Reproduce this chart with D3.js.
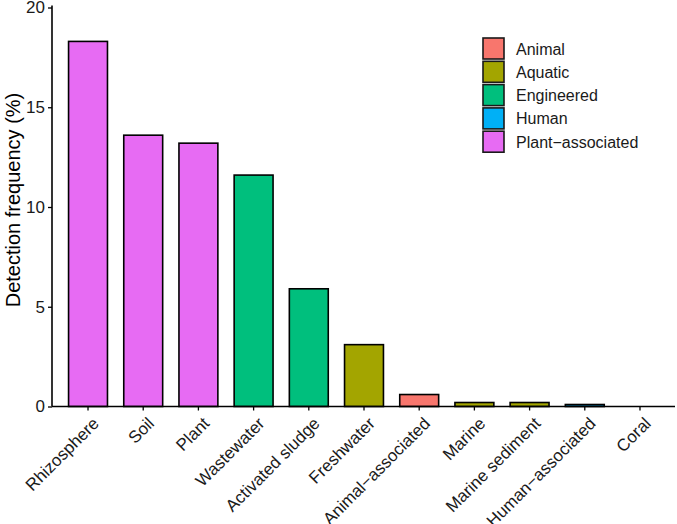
<!DOCTYPE html>
<html><head><meta charset="utf-8">
<script src="https://cdn.jsdelivr.net/npm/d3@7"></script>
<style>body{margin:0;background:#fff;} text{font-family:"Liberation Sans",Arial,Helvetica,sans-serif;}</style>
</head><body>
<svg id="chart" width="677" height="524"></svg>
<script>
const categories = ["Rhizosphere","Soil","Plant","Wastewater","Activated sludge","Freshwater","Animal\u2212associated","Marine","Marine sediment","Human\u2212associated","Coral"];
const values = [18.3, 13.6, 13.2, 11.6, 5.9, 3.1, 0.6, 0.2, 0.2, 0.1, 0];
const groups = ["Plant-associated","Plant-associated","Plant-associated","Engineered","Engineered","Aquatic","Animal","Aquatic","Aquatic","Human","Aquatic"];
const legendLabels = ["Animal","Aquatic","Engineered","Human","Plant\u2212associated"];
const legendKeys = ["Animal","Aquatic","Engineered","Human","Plant-associated"];
const legendColors = ["#F8766D","#A3A500","#00BF7D","#00B0F6","#E76BF3"];
const yTicks = [0,5,10,15,20];

const svg = d3.select("#chart");
const mLeft = 52, mRight = 676, mTop = 7.5, mBottom = 406.5;
const x = d3.scaleBand().domain(categories).range([mLeft, mRight]).paddingInner(0.295).paddingOuter(0.3);
const y = d3.scaleLinear().domain([0,20]).range([mBottom, mTop]);
const color = d3.scaleOrdinal().domain(legendKeys).range(legendColors);

// bars
svg.append("g").selectAll("rect").data(categories).join("rect")
  .attr("x", d => x(d))
  .attr("y", (d,i) => y(values[i]))
  .attr("width", x.bandwidth())
  .attr("height", (d,i) => mBottom - y(values[i]))
  .attr("fill", (d,i) => color(groups[i]))
  .attr("stroke", (d,i) => values[i] > 0 ? "#000" : "none")
  .attr("stroke-width", 1.6);

// y axis
const ya = svg.append("g").attr("transform", `translate(${mLeft},0)`)
  .call(d3.axisLeft(y).tickValues(yTicks).tickSize(4).tickPadding(3));
ya.select(".domain").attr("stroke","#000").attr("stroke-width",1.6).attr("d", `M0,${mBottom}V${mTop-2}`);
ya.selectAll(".tick line").attr("stroke","#000").attr("stroke-width",1.3);
ya.selectAll(".tick text").attr("font-size",17).attr("fill","#1a1a1a");

// x axis
const xa = svg.append("g").attr("transform", `translate(0,${mBottom})`)
  .call(d3.axisBottom(x).tickSize(4).tickPadding(2));
xa.select(".domain").attr("stroke","#000").attr("stroke-width",1.6).attr("d", `M${mLeft},0H675`);
xa.selectAll(".tick line").attr("stroke","#000").attr("stroke-width",1.3);
xa.selectAll(".tick text").attr("font-size",17).attr("fill","#1a1a1a")
  .attr("text-anchor","end").attr("dy",null).attr("y",0)
  .attr("transform","translate(12,18) rotate(-45)");

// y label
svg.append("text").attr("transform","translate(20,200) rotate(-90)")
  .attr("text-anchor","middle").attr("font-size",20).attr("fill","#000")
  .text("Detection frequency (%)");

// legend
const lg = svg.append("g").attr("transform","translate(483,38)");
const items = lg.selectAll("g").data(legendLabels).join("g")
  .attr("transform",(d,i)=>`translate(0,${i*23.3})`);
items.append("rect").attr("width",21).attr("height",21)
  .attr("fill",(d,i)=>legendColors[i]).attr("stroke","#1a1a1a").attr("stroke-width",1.6);
items.append("text").attr("x",33).attr("y",16.5).attr("font-size",16).attr("fill","#1a1a1a").text(d=>d);
</script>
</body></html>
